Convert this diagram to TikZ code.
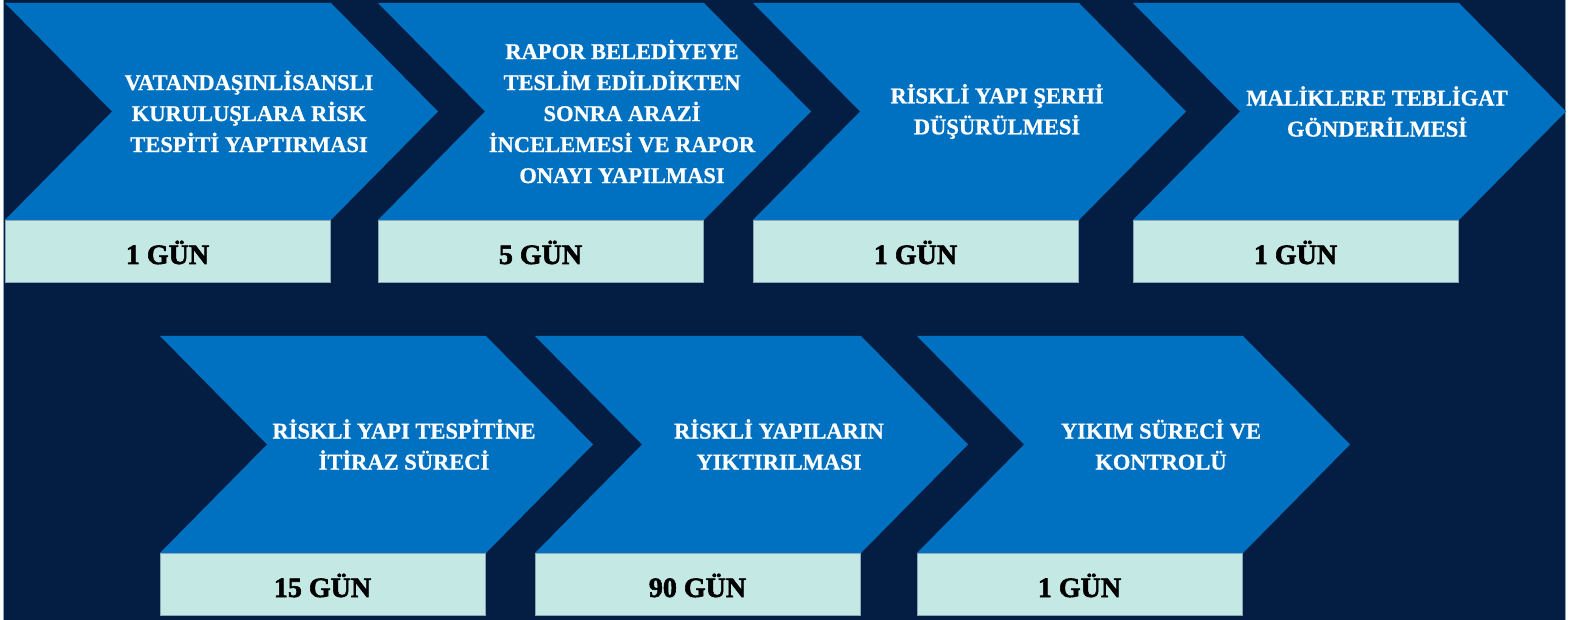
\documentclass[tikz,border=0pt]{standalone}
\usepackage{fontspec}
\setmainfont{Liberation Serif}
\newfontfamily\headfont[FakeBold=0.8]{Liberation Serif Bold}
\newfontfamily\heavyfont[FakeBold=2]{Liberation Serif Bold}
\definecolor{navy}{HTML}{031E42}
\definecolor{chevblue}{HTML}{0070C0}
\definecolor{lightbox}{HTML}{C4E8E4}
\definecolor{boxedge}{HTML}{8AA6B8}
\tikzset{
  chevfill/.style={fill=chevblue, draw=none},
  daybox/.style={fill=lightbox, draw=boxedge, line width=0.7pt},
  steptext/.style={text=white, align=center, inner sep=0pt,
    font=\headfont\fontsize{22.5}{31}\selectfont},
  daytext/.style={text=black, anchor=base, inner sep=0pt,
    font=\heavyfont\fontsize{28}{30}\selectfont},
}
% #1 name, #2 left x, #3 top y, #4 step text, #5 days
\newcommand\chevstep[5]{%
  \fill[chevfill] (#2,#3) -- ++(326,0) -- ++(107,108.5) -- ++(-107,108.5)
     -- ++(-326,0) -- ++(107,-108.5) -- cycle;
  \node[steptext] (#1t) at ({#2+244},{#3+108.5}) {#4};
  \draw[daybox] (#2,{#3+217}) rectangle ++(325,62);
  \node[daytext] (#1d) at ({#2+162.5},{#3+217+44}) {#5};
}
\begin{document}
\begin{tikzpicture}[x=1pt,y=-1pt]
\useasboundingbox (0,0) rectangle (1577,620);
\fill[white] (0,0) rectangle (1577,620);
\fill[navy] (3.5,0) rectangle (1565.5,620);
\draw[boxedge, line width=0.6pt] (3.5,0) -- (3.5,620) (1565.5,0) -- (1565.5,620);
\chevstep{s1}{5}{3}{VATANDAŞINLİSANSLI\\KURULUŞLARA RİSK\\TESPİTİ YAPTIRMASI}{1 GÜN}
\chevstep{s2}{378}{3}{RAPOR BELEDİYEYE\\TESLİM EDİLDİKTEN\\SONRA ARAZİ\\İNCELEMESİ VE RAPOR\\ONAYI YAPILMASI}{5 GÜN}
\chevstep{s3}{753}{3}{RİSKLİ YAPI ŞERHİ\\DÜŞÜRÜLMESİ}{1 GÜN}
\chevstep{s4}{1133}{3}{MALİKLERE TEBLİGAT\\GÖNDERİLMESİ}{1 GÜN}
\chevstep{s5}{160}{336}{RİSKLİ YAPI TESPİTİNE\\İTİRAZ SÜRECİ}{15 GÜN}
\chevstep{s6}{535}{336}{RİSKLİ YAPILARIN\\YIKTIRILMASI}{90 GÜN}
\chevstep{s7}{917}{336}{YIKIM SÜRECİ VE\\KONTROLÜ}{1 GÜN}
\end{tikzpicture}
\end{document}
